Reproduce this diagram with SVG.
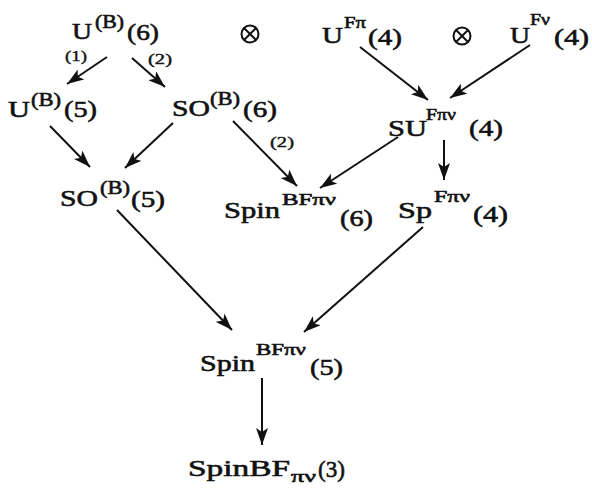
<svg xmlns="http://www.w3.org/2000/svg" width="592" height="488" viewBox="0 0 592 488">
<defs>
<style>
text{font-family:"Liberation Serif","Times New Roman",serif;font-weight:normal;fill:#111;stroke:#111;stroke-width:0.6}
.m{font-size:24px}
.s{font-size:19px}
.g{font-size:17px}
.l{font-size:15px;stroke-width:0.4}
.c line{stroke:#111;stroke-width:2;marker-end:url(#ah)}
.ot{fill:none;stroke:#111;stroke-width:2}
</style>
<marker id="ah" markerUnits="userSpaceOnUse" markerWidth="18" markerHeight="12" refX="17" refY="6" orient="auto">
<path d="M0,0 L17,6 L0,12 L4,6 z" fill="#111"/>
</marker>
</defs>
<rect width="592" height="488" fill="#fff"/>
<g id="connectors" class="c">
<line x1="107" y1="57" x2="67" y2="84"/>
<line x1="132" y1="58" x2="165" y2="87"/>
<line x1="360" y1="47" x2="428" y2="100"/>
<line x1="530" y1="45" x2="450" y2="98"/>
<line x1="50" y1="126" x2="90" y2="167"/>
<line x1="173" y1="123" x2="125" y2="168"/>
<line x1="233" y1="121" x2="297" y2="186"/>
<line x1="398" y1="137" x2="320" y2="188"/>
<line x1="444" y1="140" x2="444" y2="180"/>
<line x1="117" y1="210" x2="232" y2="330"/>
<line x1="423" y1="227" x2="304" y2="332"/>
<line x1="262" y1="378" x2="262" y2="445"/>
</g>
<g id="labels">
<text class="l" x="65" y="61" textLength="22" lengthAdjust="spacingAndGlyphs">(1)</text>
<text class="l" x="148" y="64" textLength="24" lengthAdjust="spacingAndGlyphs">(2)</text>
<text class="l" x="270" y="147" textLength="24" lengthAdjust="spacingAndGlyphs">(2)</text>
</g>
<g id="otimes1"><circle class="ot" cx="250" cy="34" r="8.5"/><line class="ot" x1="244" y1="28" x2="256" y2="40"/><line class="ot" x1="256" y1="28" x2="244" y2="40"/></g>
<g id="otimes2"><circle class="ot" cx="462" cy="36" r="8.5"/><line class="ot" x1="456" y1="30" x2="468" y2="42"/><line class="ot" x1="468" y1="30" x2="456" y2="42"/></g>
<g id="U_B_6">
<text class="m" x="72" y="39" textLength="20" lengthAdjust="spacingAndGlyphs">U</text>
<text class="s" x="95" y="28" textLength="29" lengthAdjust="spacingAndGlyphs">(B)</text>
<text class="m" x="127" y="40" textLength="32" lengthAdjust="spacingAndGlyphs">(6)</text>
</g>
<g id="U_Fpi_4">
<text class="m" x="322" y="43" textLength="21" lengthAdjust="spacingAndGlyphs">U</text>
<text class="g" x="344" y="28" textLength="22" lengthAdjust="spacingAndGlyphs">Fπ</text>
<text class="m" x="368" y="45" textLength="34" lengthAdjust="spacingAndGlyphs">(4)</text>
</g>
<g id="U_Fnu_4">
<text class="m" x="510" y="43" textLength="20" lengthAdjust="spacingAndGlyphs">U</text>
<text class="g" x="530" y="25" textLength="20" lengthAdjust="spacingAndGlyphs">Fν</text>
<text class="m" x="554" y="45" textLength="35" lengthAdjust="spacingAndGlyphs">(4)</text>
</g>
<g id="U_B_5">
<text class="m" x="8" y="117" textLength="22" lengthAdjust="spacingAndGlyphs">U</text>
<text class="s" x="31" y="106" textLength="30" lengthAdjust="spacingAndGlyphs">(B)</text>
<text class="m" x="64" y="117" textLength="33" lengthAdjust="spacingAndGlyphs">(5)</text>
</g>
<g id="SO_B_6">
<text class="m" x="172" y="116" textLength="38" lengthAdjust="spacingAndGlyphs">SO</text>
<text class="s" x="210" y="105" textLength="30" lengthAdjust="spacingAndGlyphs">(B)</text>
<text class="m" x="243" y="117" textLength="34" lengthAdjust="spacingAndGlyphs">(6)</text>
</g>
<g id="SU_Fpinu_4">
<text class="m" x="388" y="136" textLength="39" lengthAdjust="spacingAndGlyphs">SU</text>
<text class="g" x="426" y="120" textLength="30" lengthAdjust="spacingAndGlyphs">Fπν</text>
<text class="m" x="469" y="136" textLength="34" lengthAdjust="spacingAndGlyphs">(4)</text>
</g>
<g id="SO_B_5">
<text class="m" x="60" y="206" textLength="38" lengthAdjust="spacingAndGlyphs">SO</text>
<text class="s" x="100" y="194" textLength="30" lengthAdjust="spacingAndGlyphs">(B)</text>
<text class="m" x="131" y="207" textLength="34" lengthAdjust="spacingAndGlyphs">(5)</text>
</g>
<g id="Spin_BFpinu_6">
<text class="m" x="224" y="218" textLength="56" lengthAdjust="spacingAndGlyphs">Spin</text>
<text class="g" x="282" y="205" textLength="54" lengthAdjust="spacingAndGlyphs">BFπν</text>
<text class="m" x="340" y="226" textLength="33" lengthAdjust="spacingAndGlyphs">(6)</text>
</g>
<g id="Sp_Fpinu_4">
<text class="m" x="398" y="218" textLength="34" lengthAdjust="spacingAndGlyphs">Sp</text>
<text class="g" x="434" y="202" textLength="36" lengthAdjust="spacingAndGlyphs">Fπν</text>
<text class="m" x="473" y="222" textLength="35" lengthAdjust="spacingAndGlyphs">(4)</text>
</g>
<g id="Spin_BFpinu_5">
<text class="m" x="200" y="371" textLength="55" lengthAdjust="spacingAndGlyphs">Spin</text>
<text class="g" x="256" y="355" textLength="50" lengthAdjust="spacingAndGlyphs">BFπν</text>
<text class="m" x="310" y="375" textLength="33" lengthAdjust="spacingAndGlyphs">(5)</text>
</g>
<g id="SpinBF_pinu_3">
<text class="m" x="188" y="476" textLength="102" lengthAdjust="spacingAndGlyphs">SpinBF</text>
<text class="g" x="291" y="482" textLength="25" lengthAdjust="spacingAndGlyphs">πν</text>
<text class="m" x="318" y="477" textLength="27" lengthAdjust="spacingAndGlyphs">(3)</text>
</g>
</svg>
